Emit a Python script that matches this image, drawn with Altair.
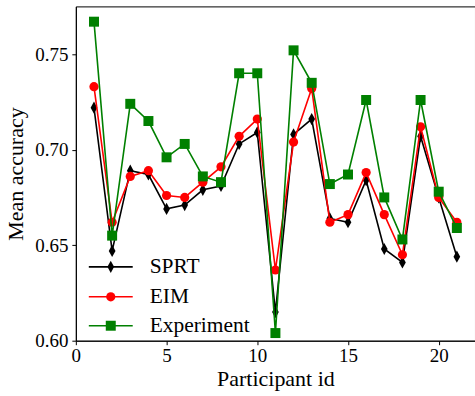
import altair as alt
import pandas as pd

participants = list(range(1, 22))

sprt = [0.722, 0.647, 0.689, 0.687, 0.669, 0.671, 0.679, 0.681, 0.703, 0.709, 0.615,
        0.708, 0.716, 0.664, 0.662, 0.684, 0.648, 0.641, 0.707, 0.675, 0.644]
eim = [0.733, 0.662, 0.686, 0.689, 0.676, 0.675, 0.683, 0.691, 0.707, 0.716, 0.637,
       0.704, 0.732, 0.662, 0.666, 0.688, 0.666, 0.645, 0.712, 0.675, 0.662]
experiment = [0.767, 0.655, 0.724, 0.715, 0.696, 0.703, 0.686, 0.683, 0.740, 0.740, 0.604,
              0.752, 0.735, 0.682, 0.687, 0.726, 0.675, 0.653, 0.726, 0.678, 0.659]

series_names = ["SPRT", "EIM", "Experiment"]
series_values = [sprt, eim, experiment]
series_colors = ["#000000", "#ff0000", "#008000"]
# thin diamond, circle, square
series_shapes = ["M-0.55,0L0,-1L0.55,0L0,1Z", "circle", "square"]
series_sizes = [150, 85, 100]

FONT = "Liberation Serif, DejaVu Serif, serif"

x_scale = alt.Scale(domain=[0, 22], nice=False, zero=False)
y_scale = alt.Scale(domain=[0.60, 0.775], nice=False, zero=False)

x_axis = alt.Axis(title="Participant id", values=[0, 5, 10, 15, 20], format="d",
                  grid=False, tickSize=4, tickColor="black", domainColor="black",
                  labelFontSize=19, titleFontSize=22, labelFont=FONT, titleFont=FONT,
                  labelColor="black", titleColor="black", titleFontWeight="normal",
                  labelPadding=2, titlePadding=3, labelFlush=False)
y_axis = alt.Axis(title="Mean accuracy", values=[0.60, 0.65, 0.70, 0.75], format=".2f",
                  grid=False, tickSize=4, tickColor="black", domainColor="black",
                  labelFontSize=19, titleFontSize=22, labelFont=FONT, titleFont=FONT,
                  labelColor="black", titleColor="black", titleFontWeight="normal",
                  labelPadding=4, titlePadding=7, labelFlush=False)

layers = []
legend_layers = []
legend_y = [261, 291, 320]
for i, (name, vals, color, shape, size) in enumerate(
        zip(series_names, series_values, series_colors, series_shapes, series_sizes)):
    df = pd.DataFrame({"participant": participants, "accuracy": vals})
    base = alt.Chart(df).encode(
        x=alt.X("participant:Q", scale=x_scale, axis=x_axis),
        y=alt.Y("accuracy:Q", scale=y_scale, axis=y_axis),
    )
    layers.append(base.mark_line(color=color, strokeWidth=1.6))
    layers.append(base.mark_point(shape=shape, filled=True, color=color, size=size, opacity=1))

    # legend entry: line, marker, label
    lab = pd.DataFrame({"label": [name]})
    ly = legend_y[i]
    legend_layers.append(alt.Chart(lab).mark_rule(color=color, strokeWidth=1.6).encode(
        x=alt.value(13), x2=alt.value(57), y=alt.value(ly)))
    legend_layers.append(alt.Chart(lab).mark_point(
        shape=shape, filled=True, color=color, size=size, opacity=1).encode(
        x=alt.value(35), y=alt.value(ly)))
    legend_layers.append(alt.Chart(lab).mark_text(
        align="left", baseline="middle", font=FONT, fontSize=21.5, color="black").encode(
        x=alt.value(74), y=alt.value(ly), text="label:N"))

chart = alt.layer(*layers, *legend_layers).properties(
    width=400, height=335,
    autosize=alt.AutoSizeParams(type="none"),
    padding={"left": 76, "top": 6, "right": 0, "bottom": 55},
    background="white",
).configure_view(stroke="black", strokeWidth=1)

chart.save("out.html", embed_options={"renderer": "svg", "actions": False})
